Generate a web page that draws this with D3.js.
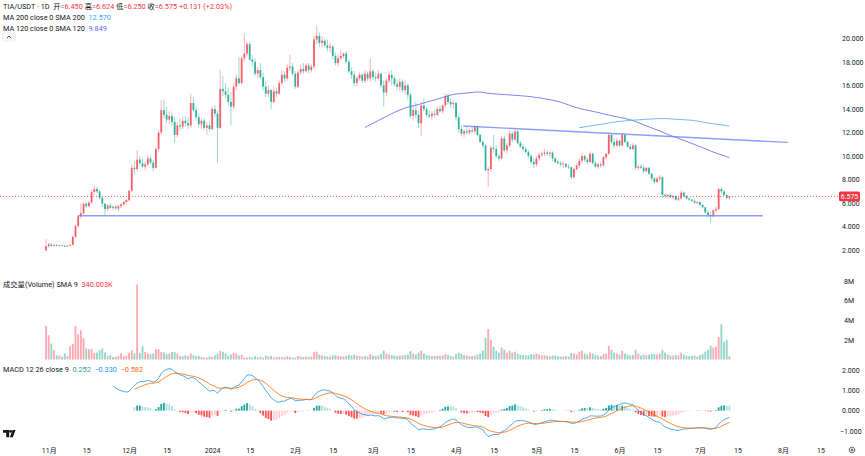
<html>
<head>
<meta charset="utf-8">
<style>
  body{margin:0;background:#fff}
  #chart svg{display:block}
  .lbl{font-family:Roboto,'Noto Sans CJK SC',sans-serif;fill:#131722}
  .axis text{font-family:Roboto,'Noto Sans CJK SC',sans-serif;fill:#131722;font-size:7px}
  .axis path,.axis line{display:none}
</style>
</head>
<body>
<div id="chart"></div>
<script src="https://d3js.org/d3.v7.min.js"></script>
<script>
// daily candles TIA/USDT, first bar 2023-10-31
var firstDay = '2023-10-31';

var opens = [2.00,2.35,2.50,2.38,2.44,2.40,2.42,2.38,2.36,2.40,2.46,3.15,4.05,4.90,5.15,5.95,5.75,6.05,6.95,7.20,
  7.00,6.45,5.95,5.50,5.80,5.60,5.70,5.55,5.75,5.90,6.10,6.25,7.05,9.00,8.90,9.70,9.40,9.10,9.30,9.80,
  9.45,9.00,10.60,12.00,13.90,13.50,13.10,13.40,12.90,11.80,12.60,12.50,13.00,12.80,12.60,14.50,13.90,13.30,12.70,13.00,
  12.40,12.60,12.30,14.00,13.60,12.40,15.70,15.50,15.20,14.60,14.20,15.90,16.60,16.20,18.30,18.70,19.50,18.20,18.00,17.00,
  17.30,16.70,15.90,15.30,15.60,14.60,15.50,15.30,16.20,16.90,16.60,17.50,17.60,17.00,15.90,17.10,17.40,17.20,17.70,17.30,
  17.60,19.90,20.20,19.60,19.80,19.40,19.20,19.30,18.50,17.90,18.30,18.50,18.70,18.00,17.20,16.90,16.20,16.60,16.90,16.40,
  17.00,16.60,17.20,16.70,16.60,17.00,16.00,15.40,16.40,16.90,16.60,16.10,15.90,16.30,15.60,16.00,15.20,13.40,13.90,13.50,
  12.80,14.30,14.00,13.50,13.40,13.60,13.50,14.00,13.80,14.30,15.10,14.60,14.40,14.50,13.30,12.30,11.90,12.10,12.00,12.20,
  12.10,12.50,11.80,11.20,10.90,8.80,8.90,10.70,10.60,10.00,9.80,11.50,10.50,10.90,11.90,11.40,12.10,11.10,10.80,10.60,
  10.35,10.00,9.50,9.30,9.80,10.10,10.20,10.30,10.20,10.30,9.80,9.50,9.40,9.30,9.35,9.10,9.05,8.20,8.90,9.20,
  9.60,10.00,9.70,9.50,10.20,9.40,9.10,9.30,9.20,9.90,10.20,11.80,11.20,10.90,11.30,10.90,11.80,11.20,10.80,10.60,
  10.90,9.00,9.10,9.00,8.70,9.00,8.50,8.10,7.80,8.10,8.20,6.70,6.60,6.70,6.50,6.60,6.30,6.40,6.90,6.60,
  6.40,6.30,6.20,6.05,6.10,5.85,5.65,5.20,5.00,4.90,5.40,5.50,7.20,7.00,6.70,6.450];
var highs = [2.95,2.62,2.60,2.50,2.52,2.48,2.48,2.45,2.44,2.50,3.25,4.20,5.05,6.00,6.05,6.10,6.20,7.15,7.45,7.40,
  7.10,6.55,6.00,5.90,6.00,5.80,5.85,5.90,6.00,6.20,6.35,7.20,9.30,9.60,10.50,10.00,9.80,9.50,10.10,10.00,
  9.70,10.80,12.20,14.75,14.80,14.20,13.80,13.70,13.30,12.90,13.20,13.30,13.40,13.30,15.30,15.00,14.20,13.60,13.20,13.20,
  12.90,12.90,14.20,14.30,13.90,17.30,16.80,16.20,15.80,15.40,16.20,16.90,18.40,18.50,20.40,19.70,19.70,18.60,18.30,17.60,
  17.90,17.10,16.30,16.00,15.70,15.90,15.80,16.40,17.30,17.20,17.80,18.60,17.90,17.20,17.30,17.80,17.90,17.90,17.90,17.80,
  20.20,21.10,20.50,20.20,20.00,19.90,19.60,19.40,18.80,18.60,19.00,18.80,18.90,18.20,17.50,17.20,16.80,17.10,17.00,17.30,
  17.20,18.30,17.40,17.10,17.30,17.10,16.40,16.60,17.20,17.30,16.80,16.50,16.60,16.50,16.40,16.20,15.40,14.30,14.60,13.80,
  14.60,14.90,14.20,13.90,13.80,13.90,14.20,14.30,14.40,15.30,15.30,14.90,14.70,14.60,13.50,12.60,12.30,12.50,12.40,12.50,
  12.60,12.60,11.90,11.40,11.00,9.10,10.90,11.80,10.90,10.20,11.70,11.70,11.10,12.20,12.10,12.40,12.20,11.30,11.00,10.80,
  10.50,10.20,9.80,10.00,10.30,10.40,10.60,10.50,10.40,10.40,9.90,9.70,9.60,9.50,9.40,9.30,9.10,9.00,9.40,9.80,
  10.30,10.10,9.90,10.40,10.30,9.60,9.40,9.50,10.00,10.30,12.00,11.90,11.50,11.50,11.40,11.90,11.95,11.30,11.00,11.10,
  11.00,9.30,9.30,9.20,9.10,9.10,8.60,8.20,8.20,8.40,8.30,6.85,6.80,6.80,6.70,6.65,6.50,7.10,7.00,6.70,
  6.50,6.40,6.30,6.20,6.15,5.90,5.70,5.40,5.20,5.50,5.70,7.35,7.40,7.10,6.80,6.624];
var lows = [1.95,2.22,2.30,2.32,2.36,2.34,2.35,2.32,2.30,2.36,2.42,3.05,3.95,4.70,5.00,5.60,5.70,5.95,6.70,6.85,
  6.30,5.70,4.95,5.35,5.50,5.40,5.45,5.30,5.60,5.80,5.95,6.20,6.95,8.50,8.70,9.20,9.00,8.80,9.10,9.30,
  8.70,8.95,10.40,11.80,13.20,12.80,12.70,12.60,11.10,11.60,12.20,12.30,12.50,12.30,12.40,13.70,13.00,12.40,12.30,12.20,
  11.80,12.10,12.20,13.30,9.40,12.30,15.10,14.90,14.30,12.60,14.00,15.60,16.00,16.10,18.00,18.50,18.10,17.60,16.80,16.60,
  16.50,15.60,15.00,15.00,14.00,14.50,15.00,15.20,16.00,16.30,16.40,17.20,16.80,15.70,15.80,16.90,17.00,17.10,17.00,17.10,
  17.40,19.50,19.30,19.20,19.20,18.90,18.80,18.20,17.70,17.60,18.10,18.30,17.80,17.00,16.60,15.90,15.90,16.40,16.20,16.20,
  16.40,16.30,16.50,16.30,16.40,15.80,14.20,15.10,16.20,16.00,15.90,15.60,15.50,15.40,15.20,14.80,13.20,13.00,13.20,12.40,
  11.70,13.80,13.30,13.20,13.10,13.30,13.40,13.70,13.60,14.10,14.40,14.10,14.00,13.00,12.00,11.70,11.60,11.80,11.80,11.90,
  11.90,11.70,11.10,10.70,8.70,7.40,8.70,10.30,9.80,9.60,9.70,10.30,10.20,10.70,11.20,11.30,11.00,10.70,10.40,10.20,
  9.80,9.30,9.00,9.10,9.60,9.90,10.00,10.00,9.90,9.60,9.40,9.30,9.10,9.00,9.00,8.90,8.00,8.10,8.80,9.00,
  9.40,9.50,9.30,9.40,9.30,9.00,8.90,9.00,9.10,9.70,10.10,11.00,10.70,10.80,10.80,10.80,11.10,10.70,10.50,10.50,
  8.80,8.80,8.90,8.50,8.60,8.40,7.90,7.60,7.70,7.90,6.50,6.40,6.40,6.45,6.30,6.20,6.15,6.30,6.50,6.30,
  6.20,6.10,5.95,5.90,5.75,5.55,5.10,4.80,4.30,4.80,5.20,5.40,6.80,6.60,6.35,6.250];
var closes = [2.35,2.50,2.38,2.44,2.40,2.42,2.38,2.36,2.40,2.46,3.15,4.05,4.90,5.15,5.95,5.75,6.05,6.95,7.20,7.00,
  6.45,5.95,5.50,5.80,5.60,5.70,5.55,5.75,5.90,6.10,6.25,7.05,9.00,8.90,9.70,9.40,9.10,9.30,9.80,9.45,
  9.00,10.60,12.00,13.90,13.50,13.10,13.40,12.90,11.80,12.60,12.50,13.00,12.80,12.60,14.50,13.90,13.30,12.70,13.00,12.40,
  12.60,12.30,14.00,13.60,12.40,15.70,15.50,15.20,14.60,14.20,15.90,16.60,16.20,18.30,18.70,19.50,18.20,18.00,17.00,17.30,
  16.70,15.90,15.30,15.60,14.60,15.50,15.30,16.20,16.90,16.60,17.50,17.60,17.00,15.90,17.10,17.40,17.20,17.70,17.30,17.60,
  19.90,20.20,19.60,19.80,19.40,19.20,19.30,18.50,17.90,18.30,18.50,18.70,18.00,17.20,16.90,16.20,16.60,16.90,16.40,17.00,
  16.60,17.20,16.70,16.60,17.00,16.00,15.40,16.40,16.90,16.60,16.10,15.90,16.30,15.60,16.00,15.20,13.40,13.90,13.50,12.80,
  14.30,14.00,13.50,13.40,13.60,13.50,14.00,13.80,14.30,15.10,14.60,14.40,14.50,13.30,12.30,11.90,12.10,12.00,12.20,12.10,
  12.50,11.80,11.20,10.90,8.80,8.90,10.70,10.60,10.00,9.80,11.50,10.50,10.90,11.90,11.40,12.10,11.10,10.80,10.60,10.35,
  10.00,9.50,9.30,9.80,10.10,10.20,10.30,10.20,10.30,9.80,9.50,9.40,9.30,9.35,9.10,9.05,8.20,8.90,9.20,9.60,
  10.00,9.70,9.50,10.20,9.40,9.10,9.30,9.20,9.90,10.20,11.80,11.20,10.90,11.30,10.90,11.80,11.20,10.80,10.60,10.90,
  9.00,9.10,9.00,8.70,9.00,8.50,8.10,7.80,8.10,8.20,6.70,6.60,6.70,6.50,6.60,6.30,6.40,6.90,6.60,6.40,
  6.30,6.20,6.05,6.10,5.85,5.65,5.20,5.00,4.90,5.40,5.50,7.20,7.00,6.70,6.444,6.575];
// volume in millions
var volumes = [3.42,2.47,1.62,0.95,0.41,0.41,0.27,0.61,0.37,1.35,1.56,3.42,2.57,2.98,2.17,1.12,1.05,1.08,0.68,0.71,
  0.95,1.12,0.71,0.34,0.44,0.27,0.27,0.37,0.61,0.34,0.41,0.68,0.95,0.61,7.65,0.68,1.35,0.78,0.61,0.54,
  0.61,1.05,1.05,0.78,0.71,0.54,0.61,0.78,0.74,0.61,0.34,0.34,0.44,0.34,0.61,0.44,0.34,0.37,0.27,0.20,
  0.20,0.34,0.27,0.44,0.61,0.88,0.78,0.61,0.37,0.51,0.68,0.61,0.41,0.47,0.20,0.20,0.27,0.20,0.34,0.20,
  0.30,0.20,0.41,0.34,0.37,0.20,0.27,0.27,0.27,0.24,0.34,0.27,0.20,0.17,0.35,0.30,0.25,0.30,0.28,0.30,
  0.75,0.80,0.50,0.40,0.35,0.30,0.30,0.40,0.45,0.35,0.35,0.30,0.35,0.45,0.40,0.50,0.40,0.35,0.30,0.35,
  0.30,0.55,0.40,0.35,0.40,0.55,0.90,0.60,0.50,0.45,0.40,0.35,0.40,0.40,0.45,0.50,0.85,0.60,0.50,0.70,
  0.90,0.60,0.45,0.40,0.35,0.35,0.40,0.35,0.40,0.55,0.45,0.35,0.30,0.55,0.70,0.60,0.45,0.40,0.35,0.35,
  0.40,0.50,0.60,0.90,2.20,3.10,2.00,1.30,0.90,0.70,1.20,1.00,0.70,0.90,0.70,0.80,0.60,0.50,0.45,0.40,
  0.45,0.55,0.50,0.60,0.50,0.40,0.45,0.35,0.35,0.40,0.40,0.35,0.30,0.30,0.35,0.30,0.65,0.60,0.50,0.80,
  0.90,0.60,0.50,0.70,0.60,0.45,0.40,0.35,0.55,0.60,1.40,1.00,0.70,0.60,0.50,0.90,0.60,0.50,0.40,0.45,
  1.00,0.60,0.40,0.50,0.45,0.50,0.60,0.55,0.50,0.60,1.00,0.70,0.50,0.40,0.40,0.45,0.40,0.70,0.50,0.40,
  0.35,0.35,0.40,0.30,0.45,0.55,0.80,1.00,1.40,1.20,1.30,2.30,3.60,1.80,2.00,0.34];

// drawn trend lines [date, price]
var supportLine = [['2023-11-12T00:00Z', 4.93], ['2024-07-24T12:00Z', 4.93]];
var resistLine  = [['2024-04-03T17:00Z', 12.55], ['2024-08-02T22:00Z', 11.16]];

var priceTicks  = [2, 4, 6, 8, 10, 12, 14, 16, 18, 20];
var volumeTicks = [2, 4, 6, 8];
var macdTicks   = [-1, 0, 1, 2];
var timeTicks   = ['2023-11-01','2023-11-15','2023-12-01','2023-12-15','2024-01-01','2024-01-15',
  '2024-02-01','2024-02-15','2024-03-01','2024-03-15','2024-04-01','2024-04-15','2024-05-01',
  '2024-05-15','2024-06-01','2024-06-15','2024-07-01','2024-07-15','2024-08-01','2024-08-15'];
var timeLabels  = ['11月','15','12月','15','2024','15','2月','15','3月','15','4月','15','5月',
  '15','6月','15','7月','15','8月','15'];

(function () {
  var W = 865, H = 456;
  var UP = '#f7525f', DOWN = '#22ab94';   // red = rising here
  var n = closes.length;
  var t0 = new Date(firstDay + 'T00:00Z');
  var dates = d3.utcDay.range(t0, d3.utcDay.offset(t0, n));

  var x = d3.scaleUtc()
    .domain([new Date('2023-11-01T00:00Z'), new Date('2024-08-01T00:00Z')])
    .range([48.7, 783]);
  var yP = d3.scaleLinear().domain([2, 20]).range([250.3, 38.3]);
  var yV = d3.scaleLinear().domain([0, 8]).range([359.5, 281]);
  var yM = d3.scaleLinear().domain([-1, 2]).range([431, 370]);

  // indicators
  function sma(src, len) {
    return src.map(function (d, i) {
      return i < len - 1 ? null : d3.mean(src.slice(i - len + 1, i + 1));
    });
  }
  function ema(src, len) {
    var a = 2 / (len + 1), out = src.map(function () { return null; });
    var first = src.findIndex(function (v) { return v != null; });
    if (first + len > src.length) return out;
    out[first + len - 1] = d3.mean(src.slice(first, first + len));
    for (var i = first + len; i < src.length; i++) out[i] = a * src[i] + (1 - a) * out[i - 1];
    return out;
  }
  var ma200 = sma(closes, 200), ma120 = sma(closes, 120);
  var e12 = ema(closes, 12), e26 = ema(closes, 26);
  var macd = closes.map(function (c, i) { return e26[i] == null ? null : e12[i] - e26[i]; });
  var signal = ema(macd, 9);
  var hist = macd.map(function (m, i) { return signal[i] == null ? null : m - signal[i]; });

  var svg = d3.select('#chart').append('svg').attr('width', W).attr('height', H);
  svg.append('rect').attr('width', W).attr('height', H).attr('fill', '#fff');

  // candles
  var bw = 1.8;
  var gC = svg.append('g');
  gC.selectAll('line').data(d3.range(n)).join('line')
    .attr('x1', function (i) { return x(dates[i]); })
    .attr('x2', function (i) { return x(dates[i]); })
    .attr('y1', function (i) { return yP(highs[i]); })
    .attr('y2', function (i) { return yP(lows[i]); })
    .attr('stroke', function (i) { return closes[i] >= opens[i] ? UP : DOWN; })
    .attr('stroke-opacity', 0.5)
    .attr('stroke-width', 0.9);
  gC.selectAll('rect').data(d3.range(n)).join('rect')
    .attr('x', function (i) { return x(dates[i]) - bw / 2; })
    .attr('width', bw)
    .attr('y', function (i) { return yP(Math.max(opens[i], closes[i])); })
    .attr('height', function (i) { return Math.max(0.8, Math.abs(yP(opens[i]) - yP(closes[i]))); })
    .attr('fill', function (i) { return closes[i] >= opens[i] ? UP : DOWN; })
    .attr('fill-opacity', 0.9);

  // moving averages
  function maLine(vals, color) {
    var line = d3.line()
      .defined(function (d) { return d != null; })
      .x(function (d, i) { return x(dates[i]); })
      .y(function (d) { return yP(d); })
      .curve(d3.curveMonotoneX);
    svg.append('path').attr('d', line(vals)).attr('fill', 'none')
      .attr('stroke', color).attr('stroke-width', 1).attr('stroke-opacity', 0.85);
  }
  maLine(ma120, '#5b6ef5');
  maLine(ma200, '#5aa9f5');

  // trend lines
  [supportLine, resistLine].forEach(function (tl) {
    svg.append('line')
      .attr('x1', x(new Date(tl[0][0]))).attr('y1', yP(tl[0][1]))
      .attr('x2', x(new Date(tl[1][0]))).attr('y2', yP(tl[1][1]))
      .attr('stroke', '#6f86f7').attr('stroke-width', 1.4).attr('stroke-opacity', 0.8);
  });

  // last price line + tag
  var last = closes[n - 1];
  svg.append('line')
    .attr('x1', 0).attr('x2', 839).attr('y1', yP(last)).attr('y2', yP(last))
    .attr('stroke', '#f23645').attr('stroke-width', 0.8).attr('stroke-dasharray', '1,2');

  // volume
  svg.append('g').selectAll('rect').data(d3.range(n)).join('rect')
    .attr('x', function (i) { return x(dates[i]) - bw / 2; })
    .attr('width', bw)
    .attr('y', function (i) { return yV(volumes[i]); })
    .attr('height', function (i) { return yV(0) - yV(volumes[i]); })
    .attr('fill', function (i) { return closes[i] >= opens[i] ? UP : DOWN; })
    .attr('fill-opacity', 0.5);

  // MACD histogram
  svg.append('g').selectAll('rect').data(d3.range(n).filter(function (i) { return hist[i] != null; })).join('rect')
    .attr('x', function (i) { return x(dates[i]) - bw / 2; })
    .attr('width', bw)
    .attr('y', function (i) { return Math.min(yM(0), yM(hist[i])); })
    .attr('height', function (i) { return Math.abs(yM(hist[i]) - yM(0)); })
    .attr('fill', function (i) {
      var h = hist[i], p = hist[i - 1] == null ? h : hist[i - 1];
      if (h >= 0) return h > p ? '#26a69a' : '#b2dfdb';
      return h < p ? '#ff5252' : '#ffcdd2';
    });
  function macdLine(vals, color) {
    var line = d3.line()
      .defined(function (d) { return d != null; })
      .x(function (d, i) { return x(dates[i]); })
      .y(function (d) { return yM(d); });
    svg.append('path').attr('d', line(vals)).attr('fill', 'none')
      .attr('stroke', color).attr('stroke-width', 1).attr('stroke-opacity', 0.8);
  }
  macdLine(macd, '#2196f3');
  macdLine(signal, '#ff6d00');

  // right scales
  var f3 = d3.format('.3f');
  function minus(s) { return s.replace('-', '\u2212'); }
  svg.append('g').attr('class', 'axis').attr('transform', 'translate(842,0)')
    .call(d3.axisRight(yP).tickValues(priceTicks).tickSize(0).tickPadding(0).tickFormat(f3));
  svg.append('g').attr('class', 'axis').attr('transform', 'translate(842,0)')
    .call(d3.axisRight(yV).tickValues(volumeTicks).tickSize(0).tickPadding(2).tickFormat(function (d) { return d + 'M'; }));
  svg.append('g').attr('class', 'axis').attr('transform', 'translate(842,0)')
    .call(d3.axisRight(yM).tickValues(macdTicks).tickSize(0).tickPadding(0)
      .tickFormat(function (d) { return minus(f3(d)); }))
    .selectAll('text').attr('x', function (d) { return d < 0 ? -2 : 0; });

  svg.append('rect').attr('x', 839).attr('y', yP(last) - 4.8).attr('width', 21).attr('height', 9.6)
    .attr('rx', 1.5).attr('fill', '#f23645');
  svg.append('text').attr('class', 'lbl').attr('x', 849.5).attr('y', yP(last))
    .attr('dy', '0.35em').attr('text-anchor', 'middle').style('font-size', '7px').style('fill', '#fff')
    .text(f3(last));

  // time axis
  var tAxis = svg.append('g').attr('class', 'axis').attr('transform', 'translate(0,444)')
    .call(d3.axisBottom(x).tickValues(timeTicks.map(function (d) { return new Date(d + 'T00:00Z'); }))
      .tickSize(0).tickPadding(0).tickFormat(function (d, i) { return timeLabels[i]; }));
  tAxis.selectAll('text').attr('y', 7).attr('dy', '0.32em');

  // legends
  function legend(y, parts) {
    var t = svg.append('text').attr('class', 'lbl').attr('x', 3).attr('y', y)
      .attr('dy', '0.35em').style('font-size', '7.3px').attr('xml:space', 'preserve');
    parts.forEach(function (p) { t.append('tspan').style('fill', p[1]).text(p[0]); });
  }
  var RED = '#f23645';
  legend(6.5, [['TIA/USDT \u00b7 1D  ', '#131722'], ['开', '#131722'], ['=6.450 ', RED], ['高', '#131722'],
    ['=6.624 ', RED], ['低', '#131722'], ['=6.250 ', RED], ['收', '#131722'], ['=6.575 ', RED], ['+0.131 (+2.03%)', RED]]);
  legend(17, [['MA 200 close 0 SMA 200  ', '#131722'], ['12.570', '#42a5f5']]);
  legend(28, [['MA 120 close 0 SMA 120  ', '#131722'], ['9.849', '#5b6ef5']]);
  legend(284, [['成交量(Volume) SMA 9  ', '#131722'], ['340.003K', RED]]);
  legend(369, [['MACD 12 26 close 9  ', '#131722'], ['0.252  ', '#26a69a'], ['\u22120.330  ', '#2196f3'], ['\u22120.582', '#ff6d00']]);

  // collapse button
  svg.append('rect').attr('x', 2.5).attr('y', 33).attr('width', 13).attr('height', 8).attr('rx', 2)
    .attr('fill', '#fff').attr('stroke', '#e0e3eb').attr('stroke-width', 0.7);
  svg.append('path').attr('d', 'M6.8,38.3 L9,36 L11.2,38.3').attr('fill', 'none')
    .attr('stroke', '#131722').attr('stroke-width', 0.8);

  // logo
  svg.append('path').attr('d', 'M3,430 h6.2 v7.2 h-3 v-4.4 h-3.2 z M12.6,430 h3 l-2.8,7.2 h-3 z')
    .attr('fill', '#131722');
  svg.append('circle').attr('cx', 10.6).attr('cy', 431.4).attr('r', 1.4).attr('fill', '#131722');

  // settings gear
  svg.append('circle').attr('cx', 852).attr('cy', 450).attr('r', 2.8).attr('fill', 'none')
    .attr('stroke', '#131722').attr('stroke-width', 0.9).attr('stroke-dasharray', '1.6,0.6');
  svg.append('circle').attr('cx', 852).attr('cy', 450).attr('r', 1).attr('fill', 'none')
    .attr('stroke', '#131722').attr('stroke-width', 0.7);
})();
</script>
</body>
</html>
